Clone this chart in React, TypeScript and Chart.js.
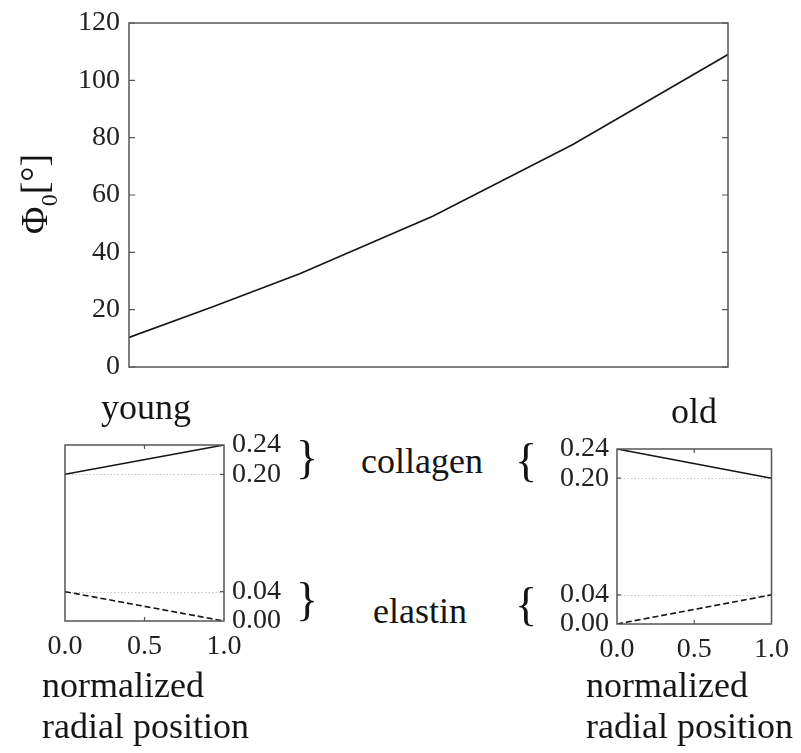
import React, { useEffect, useRef } from "react";
import { Chart, registerables } from "chart.js";

Chart.register(...registerables);

const SERIF = '"Liberation Serif", "Times New Roman", Times, serif';
const INK = "#151515";
const FRAME = "#555555";

// Fibre angle Φ0 (degrees) from young to old
const AGE = [0, 0.14, 0.285, 0.507, 0.741, 1.0];
const PHI0 = [10.3, 21, 32.5, 52.6, 77.6, 109];
const PHI_TICKS = [0, 20, 40, 60, 80, 100, 120];

// Mass fractions across the wall (normalized radial position)
const RADIAL = [0, 1];
const YOUNG_COLLAGEN = [0.2, 0.24];
const YOUNG_ELASTIN = [0.04, 0.0];
const OLD_COLLAGEN = [0.24, 0.2];
const OLD_ELASTIN = [0.0, 0.04];
const FRACTION_TICKS = [0, 0.04, 0.2, 0.24];
const FRACTION_LABELS = ["0.00", "0.04", "0.20", "0.24"];
const FRACTION_GUIDES = [0.04, 0.2];
const RADIAL_TICKS = [0, 0.5, 1];
const RADIAL_LABELS = ["0.0", "0.5", "1.0"];

type FrameOpts = {
  guides?: number[];
  yTicks?: number[];
  ySides?: ("left" | "right")[];
  xTicks?: number[];
  tickLen?: number;
  yTitle?: boolean;
};

const framePlugin = {
  id: "frame",
  beforeDatasetsDraw(chart: any, _a: any, opts: FrameOpts) {
    const { ctx, chartArea: a, scales } = chart;
    if (!opts.guides) return;
    ctx.save();
    ctx.strokeStyle = "#c4c4c4";
    ctx.lineWidth = 1;
    ctx.setLineDash([1.5, 2]);
    for (const v of opts.guides) {
      const py = Math.round(scales.y.getPixelForValue(v)) + 0.5;
      ctx.beginPath();
      ctx.moveTo(a.left, py);
      ctx.lineTo(a.right, py);
      ctx.stroke();
    }
    ctx.restore();
  },
  afterDatasetsDraw(chart: any, _a: any, opts: FrameOpts) {
    const { ctx, chartArea: a, scales } = chart;
    const len = opts.tickLen ?? 5;
    ctx.save();
    ctx.strokeStyle = FRAME;
    ctx.lineWidth = 1.5;
    ctx.strokeRect(a.left, a.top, a.right - a.left, a.bottom - a.top);
    ctx.lineWidth = 1.2;
    ctx.beginPath();
    for (const v of opts.yTicks ?? []) {
      const py = scales.y.getPixelForValue(v);
      for (const side of opts.ySides ?? []) {
        if (side === "left") {
          ctx.moveTo(a.left, py);
          ctx.lineTo(a.left + len, py);
        } else {
          ctx.moveTo(a.right, py);
          ctx.lineTo(a.right - len, py);
        }
      }
    }
    for (const v of opts.xTicks ?? []) {
      const px = scales.x.getPixelForValue(v);
      ctx.moveTo(px, a.top);
      ctx.lineTo(px, a.top + len);
      ctx.moveTo(px, a.bottom);
      ctx.lineTo(px, a.bottom - len);
    }
    ctx.stroke();
    ctx.restore();
  },
  afterDraw(chart: any, _a: any, opts: FrameOpts) {
    if (!opts.yTitle) return;
    const { ctx } = chart;
    // rotated axis title: Φ with subscript 0, then [°]
    ctx.save();
    ctx.translate(47, 194);
    ctx.rotate(-Math.PI / 2);
    ctx.fillStyle = INK;
    ctx.textBaseline = "alphabetic";
    ctx.textAlign = "left";
    const big = `38px ${SERIF}`;
    const small = `24px ${SERIF}`;
    ctx.font = big;
    const wPhi = ctx.measureText("Φ").width;
    const wBr = ctx.measureText("[°]").width;
    ctx.font = small;
    const wSub = ctx.measureText("0").width;
    let x = -(wPhi + wSub + wBr) / 2;
    ctx.font = big;
    ctx.fillText("Φ", x, 0);
    x += wPhi;
    ctx.font = small;
    ctx.fillText("0", x, 10);
    x += wSub;
    ctx.font = big;
    ctx.fillText("[°]", x, 0);
    ctx.restore();
  },
};

function useChart(build: () => any) {
  const ref = useRef<HTMLCanvasElement | null>(null);
  useEffect(() => {
    if (!ref.current) return;
    const chart = new Chart(ref.current, build());
    return () => chart.destroy();
  }, []);
  return ref;
}

const tickFont = { family: SERIF, size: 28, lineHeight: 1 };

function MainChart() {
  const ref = useChart(() => ({
    type: "line",
    data: {
      datasets: [
        {
          data: AGE.map((x, i) => ({ x, y: PHI0[i] })),
          borderColor: INK,
          borderWidth: 1.6,
          pointRadius: 0,
          tension: 0,
        },
      ],
    },
    options: {
      animation: false,
      responsive: false,
      events: [],
      layout: { padding: { left: 0, top: 16, right: 73, bottom: 23 } },
      plugins: {
        legend: { display: false },
        tooltip: { enabled: false },
        frame: { yTicks: PHI_TICKS, ySides: ["left", "right"], tickLen: 6, yTitle: true },
      },
      scales: {
        x: { type: "linear", min: 0, max: 1, display: false },
        y: {
          type: "linear",
          min: 0,
          max: 120,
          afterBuildTicks: (s: any) => {
            s.ticks = PHI_TICKS.map((value) => ({ value }));
          },
          afterFit: (s: any) => {
            s.width = 129;
          },
          grid: { display: false, drawTicks: false },
          border: { display: false },
          ticks: { font: tickFont, color: "#222", padding: 9 },
        },
      },
    },
    plugins: [framePlugin],
  }));
  return (
    <canvas
      ref={ref}
      width={801}
      height={390}
      style={{ position: "absolute", left: 0, top: 0, width: 801, height: 390 }}
    />
  );
}

function FractionChart(props: {
  collagen: number[];
  elastin: number[];
  side: "left" | "right";
  left: number;
  top: number;
  width: number;
  height: number;
  padding: { left: number; top: number; right: number; bottom: number };
  axisWidth: number;
  axisHeight: number;
}) {
  const { collagen, elastin, side } = props;
  const ref = useChart(() => ({
    type: "line",
    data: {
      datasets: [
        {
          data: RADIAL.map((x, i) => ({ x, y: collagen[i] })),
          borderColor: INK,
          borderWidth: 1.6,
          pointRadius: 0,
        },
        {
          data: RADIAL.map((x, i) => ({ x, y: elastin[i] })),
          borderColor: INK,
          borderWidth: 1.6,
          borderDash: [6, 3],
          pointRadius: 0,
        },
      ],
    },
    options: {
      animation: false,
      responsive: false,
      events: [],
      layout: { padding: props.padding },
      plugins: {
        legend: { display: false },
        tooltip: { enabled: false },
        frame: {
          guides: FRACTION_GUIDES,
          yTicks: FRACTION_GUIDES,
          ySides: [side],
          xTicks: [0.5],
          tickLen: 4,
        },
      },
      scales: {
        x: {
          type: "linear",
          min: 0,
          max: 1,
          afterBuildTicks: (s: any) => {
            s.ticks = RADIAL_TICKS.map((value) => ({ value }));
          },
          afterFit: (s: any) => {
            s.height = props.axisHeight;
          },
          grid: { display: false, drawTicks: false },
          border: { display: false },
          ticks: {
            font: tickFont,
            color: "#222",
            padding: 12,
            maxRotation: 0,
            callback: (_v: any, i: number) => RADIAL_LABELS[i],
          },
        },
        y: {
          type: "linear",
          position: side,
          min: 0,
          max: 0.24,
          afterBuildTicks: (s: any) => {
            s.ticks = FRACTION_TICKS.map((value) => ({ value }));
          },
          afterFit: (s: any) => {
            s.width = props.axisWidth;
          },
          grid: { display: false, drawTicks: false },
          border: { display: false },
          ticks: {
            font: tickFont,
            color: "#222",
            padding: 8,
            callback: (_v: any, i: number) => FRACTION_LABELS[i],
          },
        },
      },
    },
    plugins: [framePlugin],
  }));
  return (
    <canvas
      ref={ref}
      width={props.width}
      height={props.height}
      style={{
        position: "absolute",
        left: props.left,
        top: props.top,
        width: props.width,
        height: props.height,
      }}
    />
  );
}

function Label(props: {
  x: number;
  baseline: number;
  size?: number;
  align?: "left" | "center";
  children: React.ReactNode;
}) {
  const size = props.size ?? 36;
  return (
    <div
      style={{
        position: "absolute",
        left: props.x,
        top: props.baseline - size * 0.84,
        fontFamily: SERIF,
        fontSize: size,
        lineHeight: `${size}px`,
        color: INK,
        whiteSpace: "nowrap",
        transform: props.align === "left" ? undefined : "translateX(-50%)",
      }}
    >
      {props.children}
    </div>
  );
}

export default function App() {
  return (
    <div
      style={{
        position: "fixed",
        left: 0,
        top: 0,
        width: 801,
        height: 753,
        background: "#fff",
        overflow: "hidden",
      }}
    >
      <MainChart />
      <FractionChart
        collagen={YOUNG_COLLAGEN}
        elastin={YOUNG_ELASTIN}
        side="right"
        left={0}
        top={400}
        width={320}
        height={290}
        padding={{ left: 65, top: 45, right: 0, bottom: 0 }}
        axisWidth={96}
        axisHeight={69}
      />
      <FractionChart
        collagen={OLD_COLLAGEN}
        elastin={OLD_ELASTIN}
        side="left"
        left={520}
        top={400}
        width={281}
        height={290}
        padding={{ left: 0, top: 49, right: 28, bottom: 0 }}
        axisWidth={97}
        axisHeight={66}
      />
      <Label x={146} baseline={419}>young</Label>
      <Label x={694} baseline={423}>old</Label>
      <Label x={422} baseline={473}>collagen</Label>
      <Label x={420} baseline={623}>elastin</Label>
      <Label x={307} baseline={474} size={46}>{"}"}</Label>
      <Label x={307} baseline={616} size={46}>{"}"}</Label>
      <Label x={526} baseline={477} size={46}>{"{"}</Label>
      <Label x={526} baseline={621} size={46}>{"{"}</Label>
      <Label x={42} baseline={697} align="left">normalized</Label>
      <Label x={42} baseline={738} align="left">radial position</Label>
      <Label x={586} baseline={697} align="left">normalized</Label>
      <Label x={586} baseline={738} align="left">radial position</Label>
    </div>
  );
}
